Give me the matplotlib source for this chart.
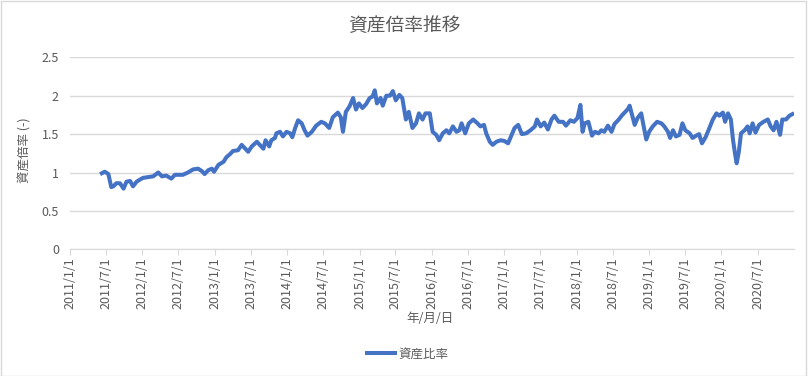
import numpy as np
import pandas as pd
import matplotlib
matplotlib.use("Agg")
import matplotlib.pyplot as plt
from matplotlib.patches import Rectangle

plt.rcParams['font.family'] = ['Noto Sans CJK JP', 'DejaVu Sans']

# time as decimal years
years = [
    2011.44, 2011.48, 2011.53, 2011.57, 2011.60, 2011.64, 2011.69, 2011.74, 2011.78, 2011.83,
    2011.87, 2011.92, 2011.97, 2012.01, 2012.08, 2012.15, 2012.22, 2012.27, 2012.33, 2012.40,
    2012.45, 2012.52, 2012.56, 2012.63, 2012.70, 2012.77, 2012.82, 2012.86, 2012.91, 2012.96,
    2012.99, 2013.05, 2013.12, 2013.16, 2013.21, 2013.25, 2013.32, 2013.37, 2013.42, 2013.46,
    2013.51, 2013.58, 2013.62, 2013.67, 2013.70, 2013.75, 2013.78, 2013.83,
    2013.85, 2013.90, 2013.94, 2013.99, 2014.04, 2014.07, 2014.11, 2014.15, 2014.20, 2014.24,
    2014.28, 2014.34, 2014.40, 2014.47, 2014.52, 2014.58, 2014.63, 2014.70, 2014.74, 2014.77,
    2014.81, 2014.86, 2014.91, 2014.95, 2014.99, 2015.04, 2015.09, 2015.14, 2015.18, 2015.21,
    2015.24, 2015.29, 2015.32, 2015.37, 2015.42, 2015.46, 2015.50, 2015.55, 2015.59, 2015.64,
    2015.68, 2015.73, 2015.78, 2015.82, 2015.87, 2015.91, 2015.97, 2016.01, 2016.06, 2016.10,
    2016.15, 2016.20,
    2016.24, 2016.29, 2016.34, 2016.38, 2016.41, 2016.46, 2016.51, 2016.57, 2016.63, 2016.67,
    2016.72, 2016.75, 2016.80, 2016.84, 2016.89, 2016.95, 2017.00, 2017.05, 2017.10, 2017.14,
    2017.19, 2017.24, 2017.30, 2017.36, 2017.42, 2017.45, 2017.50, 2017.55, 2017.60, 2017.65,
    2017.69, 2017.75, 2017.81, 2017.85, 2017.91, 2017.96, 2018.01, 2018.05, 2018.08, 2018.11,
    2018.16, 2018.21, 2018.25, 2018.30, 2018.34, 2018.38, 2018.43, 2018.48, 2018.52, 2018.58,
    2018.62, 2018.66,
    2018.71, 2018.73, 2018.77, 2018.80, 2018.84, 2018.89, 2018.92, 2018.96, 2019.00, 2019.05,
    2019.11, 2019.17, 2019.21, 2019.26, 2019.29, 2019.33, 2019.37, 2019.42, 2019.46, 2019.50,
    2019.56, 2019.60, 2019.65, 2019.69, 2019.73, 2019.78, 2019.82, 2019.88, 2019.93, 2019.97,
    2020.02, 2020.05, 2020.09, 2020.13, 2020.16, 2020.19, 2020.21, 2020.24, 2020.27, 2020.32,
    2020.36, 2020.39, 2020.43, 2020.47, 2020.52, 2020.58, 2020.64, 2020.68, 2020.72, 2020.76,
    2020.81, 2020.84, 2020.89, 2020.94, 2020.98,
]
ratio = [
    0.99, 1.01, 0.98, 0.81, 0.82, 0.86, 0.86, 0.79, 0.88, 0.89,
    0.82, 0.88, 0.91, 0.93, 0.94, 0.95, 1.00, 0.95, 0.96, 0.92,
    0.97, 0.97, 0.97, 1.00, 1.04, 1.05, 1.02, 0.98, 1.03, 1.05,
    1.01, 1.10, 1.14, 1.20, 1.24, 1.28, 1.29, 1.36, 1.31, 1.27,
    1.34, 1.40, 1.36, 1.31, 1.42, 1.34, 1.42, 1.45,
    1.51, 1.53, 1.47, 1.53, 1.51, 1.46, 1.58, 1.68, 1.64, 1.55,
    1.48, 1.53, 1.61, 1.66, 1.64, 1.58, 1.72, 1.78, 1.72, 1.53,
    1.79, 1.86, 1.97, 1.82, 1.90, 1.84, 1.89, 1.97, 1.99, 2.07,
    1.90, 1.97, 1.87, 2.00, 2.00, 2.06, 1.94, 2.01, 1.97, 1.69,
    1.79, 1.58, 1.64, 1.77, 1.69, 1.77, 1.77, 1.53, 1.49, 1.42,
    1.51, 1.55,
    1.51, 1.60, 1.53, 1.55, 1.64, 1.51, 1.64, 1.69, 1.64, 1.60,
    1.62, 1.51, 1.40, 1.36, 1.40, 1.42, 1.41, 1.38, 1.49, 1.58,
    1.62, 1.50, 1.51, 1.55, 1.60, 1.69, 1.60, 1.65, 1.56, 1.69,
    1.74, 1.66, 1.66, 1.61, 1.68, 1.66, 1.71, 1.88, 1.53, 1.64,
    1.66, 1.48, 1.53, 1.51, 1.55, 1.53, 1.61, 1.53, 1.63, 1.69,
    1.74, 1.78,
    1.83, 1.87, 1.73, 1.62, 1.71, 1.77, 1.62, 1.43, 1.53, 1.60,
    1.66, 1.64, 1.60, 1.53, 1.45, 1.55, 1.47, 1.49, 1.64, 1.55,
    1.51, 1.45, 1.48, 1.50, 1.38, 1.46, 1.55, 1.69, 1.77, 1.74,
    1.78, 1.66, 1.77, 1.69, 1.42, 1.23, 1.12, 1.27, 1.51, 1.55,
    1.60, 1.51, 1.64, 1.52, 1.62, 1.66, 1.69, 1.60, 1.55, 1.66,
    1.49, 1.69, 1.69, 1.74, 1.76,
]
y_ticks = [0, 0.5, 1, 1.5, 2, 2.5]
x_ticks = pd.date_range("2011-01-01", "2020-07-01", freq="6MS")

def to_date(y):
    yr = int(y)
    return pd.Timestamp(yr, 1, 1) + pd.Timedelta(days=(y - yr) * 365.25)

dates = [to_date(y) for y in years]

grey = '#595959'
fig = plt.figure(figsize=(8.08, 3.76), dpi=100)
fig.patches.append(Rectangle((0.001, 0.001), 0.997, 0.996, transform=fig.transFigure,
                             fill=False, edgecolor='#D9D9D9', lw=1))
ax = fig.add_axes([70 / 808, 1 - 249.3 / 376, 724 / 808, 192 / 376])

ax.plot(dates, ratio, color='#4472C4', lw=2.9, label='資産比率', solid_joinstyle='round')

ax.set_xlim(pd.Timestamp("2011-01-01"), pd.Timestamp("2021-01-01"))
ax.set_ylim(0, 2.5)
ax.set_yticks(y_ticks)
ax.set_yticklabels([f"{v:g}" for v in y_ticks], color=grey, fontsize=9)
ax.set_xticks(x_ticks)
ax.set_xticklabels([f"{d.year}/{d.month}/{d.day}" for d in x_ticks],
                   rotation=90, color=grey, fontsize=9)
ax.tick_params(axis='y', length=0, pad=8)
ax.tick_params(axis='x', length=4, color='#D9D9D9', pad=2)
ax.grid(axis='y', color='#D9D9D9', lw=1)
ax.set_axisbelow(True)
for s in ['top', 'right', 'left']:
    ax.spines[s].set_visible(False)
ax.spines['bottom'].set_color('#D9D9D9')

fig.text(0.5, 1 - 25 / 376, '資産倍率推移', ha='center', va='center', fontsize=13.5, color=grey)
fig.text(25 / 808, 1 - 150 / 376, '資産倍率 (-)', ha='center', va='center', rotation=90,
         fontsize=9, color=grey)
fig.text(430 / 808, 1 - 318 / 376, '年/月/日', ha='center', va='center', fontsize=9, color=grey)
fig.legend(loc='center', bbox_to_anchor=(408 / 808, 1 - 354 / 376), frameon=False,
           fontsize=9, labelcolor=grey, handlelength=2.2, handletextpad=0.3)

fig.savefig('out.png', dpi=100)
